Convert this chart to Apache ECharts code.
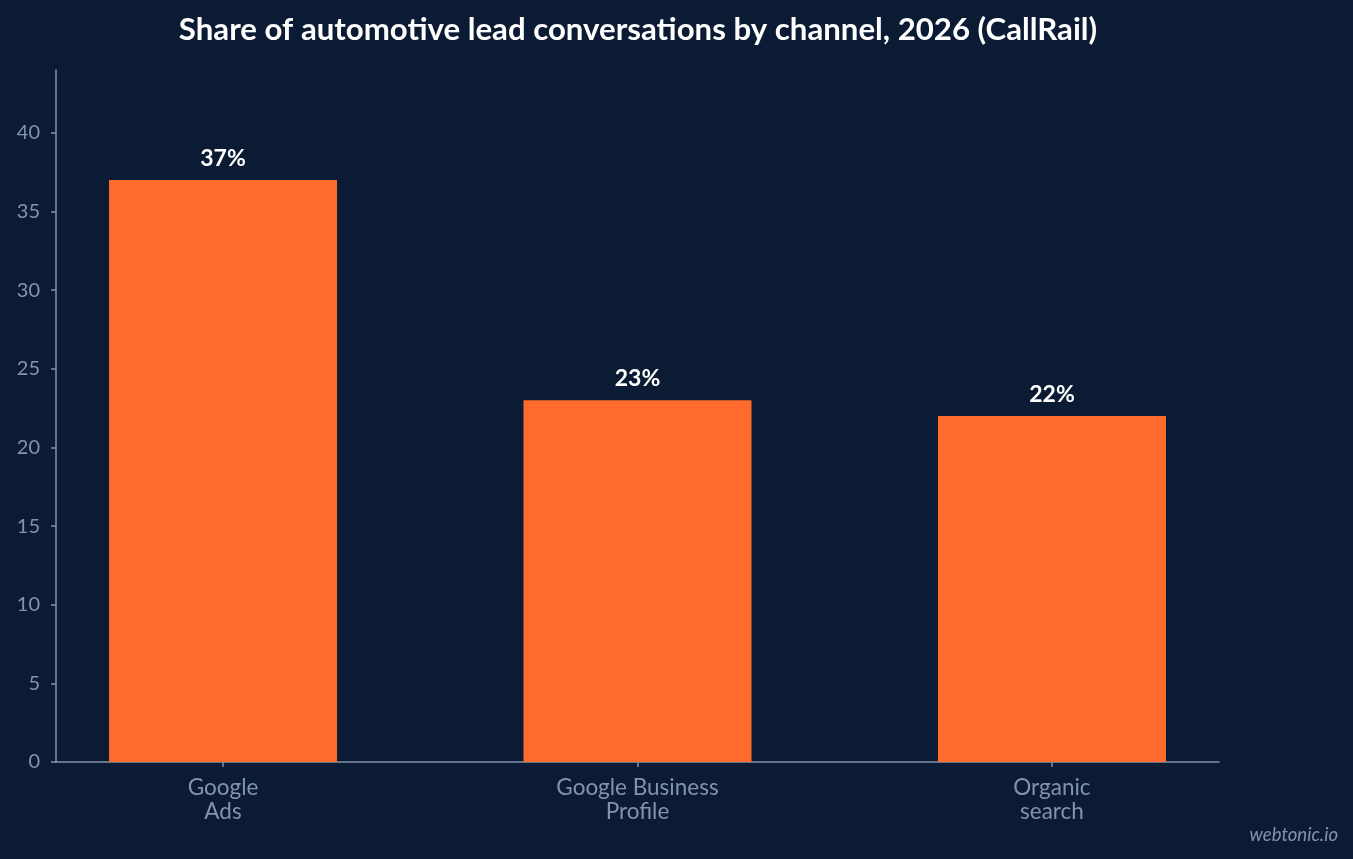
<!DOCTYPE html>
<html><head><meta charset="utf-8">
<script src="https://cdn.jsdelivr.net/npm/echarts@6/dist/echarts.min.js"></script>
<style>html,body{margin:0;padding:0;background:#0b1b33;}#c{width:1353px;height:859px;}</style>
</head><body><div id="c"></div>
<script>
const categories = ["Google\nAds", "Google Business\nProfile", "Organic\nsearch"];
const values = [37, 23, 22];
const yTicks = [0, 5, 10, 15, 20, 25, 30, 35, 40];
const titleText = "Share of automotive lead conversations by channel, 2026 (CallRail)";

const axisColor = "#8393ad";
const chart = echarts.init(document.getElementById('c'));
chart.setOption({
  backgroundColor: "#0b1b33",
  animation: false,
  textStyle: { fontFamily: "Lato" },
  title: {
    text: titleText, left: 633, top: 9, textAlign: 'center',
    textStyle: { color: "#ffffff", fontSize: 31.2, fontWeight: 'bold', fontFamily: "Lato" }
  },
  graphic: [{
    type: 'text', right: 15, bottom: 14,
    style: { text: "webtonic.io", fill: "#8393ad", font: "italic 18.5px Lato" }
  }],
  grid: { left: 56, right: 134, top: 70, bottom: 97, containLabel: false },
  xAxis: {
    type: 'value', min: -0.403, max: 2.403,
    splitLine: { show: false },
    axisLine: { show: true, onZero: false, lineStyle: { color: axisColor, width: 1.5 } },
    axisTick: { show: true, length: 5, lineStyle: { color: axisColor, width: 1.5 }, customValues: [0, 1, 2] },
    axisLabel: {
      customValues: [0, 1, 2], color: axisColor, fontSize: 22.5, lineHeight: 24, margin: 14,
      formatter: v => categories[Math.round(v)]
    }
  },
  yAxis: {
    type: 'value', min: 0, max: 44,
    splitLine: { show: false },
    axisLine: { show: true, onZero: false, lineStyle: { color: axisColor, width: 1.5 } },
    axisTick: { show: true, length: 5, lineStyle: { color: axisColor, width: 1.5 }, customValues: yTicks },
    axisLabel: { customValues: yTicks, color: axisColor, fontSize: 20, margin: 16 }
  },
  series: [{
    type: 'bar',
    data: values.map((v, i) => [i, v]),
    barWidth: 228,
    itemStyle: { color: "#ff6b2c" },
    label: {
      show: true, position: 'top', distance: 10,
      formatter: p => p.value[1] + "%",
      color: "#ffffff", fontSize: 23, fontWeight: 'bold', fontFamily: "Lato"
    }
  }]
});
</script></body></html>
